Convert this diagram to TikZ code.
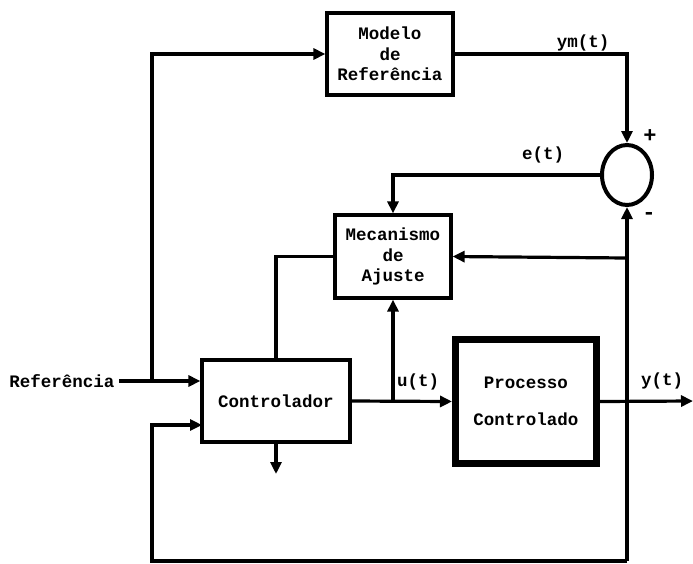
\documentclass[tikz,border=0pt]{standalone}
\usepackage{fontspec}
\newfontfamily\blockfont{Liberation Mono}
\usetikzlibrary{arrows.meta,shapes.geometric}

\begin{document}
\begin{tikzpicture}[
    x=1pt, y=-1pt,
    line width=3.2pt,
    every node/.style={font=\blockfont\bfseries\fontsize{17.5}{20.5}\selectfont},
    blockbox/.style={draw, rectangle, align=center, inner sep=0pt},
    signmark/.style={font=\blockfont\bfseries\fontsize{22}{22}\selectfont},
    sig/.style={-{Triangle[length=12pt,width=11pt]}}
]
\useasboundingbox (0,0) rectangle (693,563);

% Blocks
\node[blockbox, minimum width=126pt, minimum height=82pt] (modelo) at (390,54) {Modelo\\de\\Referência};
\node[blockbox, minimum width=116pt, minimum height=83pt] (ajuste) at (393,256.5) {Mecanismo\\de\\Ajuste};
\node[blockbox, minimum width=148pt, minimum height=82pt] (ctrl) at (276,401) {Controlador};
\node[blockbox, line width=7pt, minimum width=141pt, minimum height=124pt] (processo) at (526,401.5) {Processo\\[17pt]Controlado};
\node[draw, ellipse, line width=4pt, minimum width=50pt, minimum height=60pt, inner sep=0pt] (soma) at (627,175) {};

% Input
\node (ref) at (62,381) {Referência};
\coordinate (rb) at (152,381);
\coordinate (in2) at (202,425);
\coordinate (ub) at (393,401);
\coordinate (yb) at (627,401);
\coordinate (yout) at (693,401);
\coordinate (ab) at (627,258);
\coordinate (fbr) at (627,561);
\coordinate (fbl) at (152,561);
\coordinate (cout) at (276,474);

% Connectors
\draw[sig] (ref.east) -- (ref -| ctrl.west);
\draw[sig] (rb) |- (modelo.west);
\draw[sig] (modelo.east) -| (soma.north);
\draw[sig] (soma.west) -| (ajuste.north);
\draw (ajuste.west) -| (ctrl.north);
\draw[sig] (ctrl.east) -- (processo.west);
\draw[sig] (ub) -- (ajuste.south);
\draw[sig] (processo.east) -- (yout);
\draw[sig] (fbr) -- (soma.south);
\draw[sig] (ab) -- (ajuste.east);
\draw[sig] (fbr) -- (fbl) |- (in2);
\draw[sig] (ctrl.south) -- (cout);

% Labels
\node at (583,43) {ym(t)};
\node at (543,155) {e(t)};
\node at (418,382) {u(t)};
\node at (662,381) {y(t)};
\node[signmark] at (650,136) {+};
\node[signmark] at (649,216) {-};

\end{tikzpicture}
\end{document}
